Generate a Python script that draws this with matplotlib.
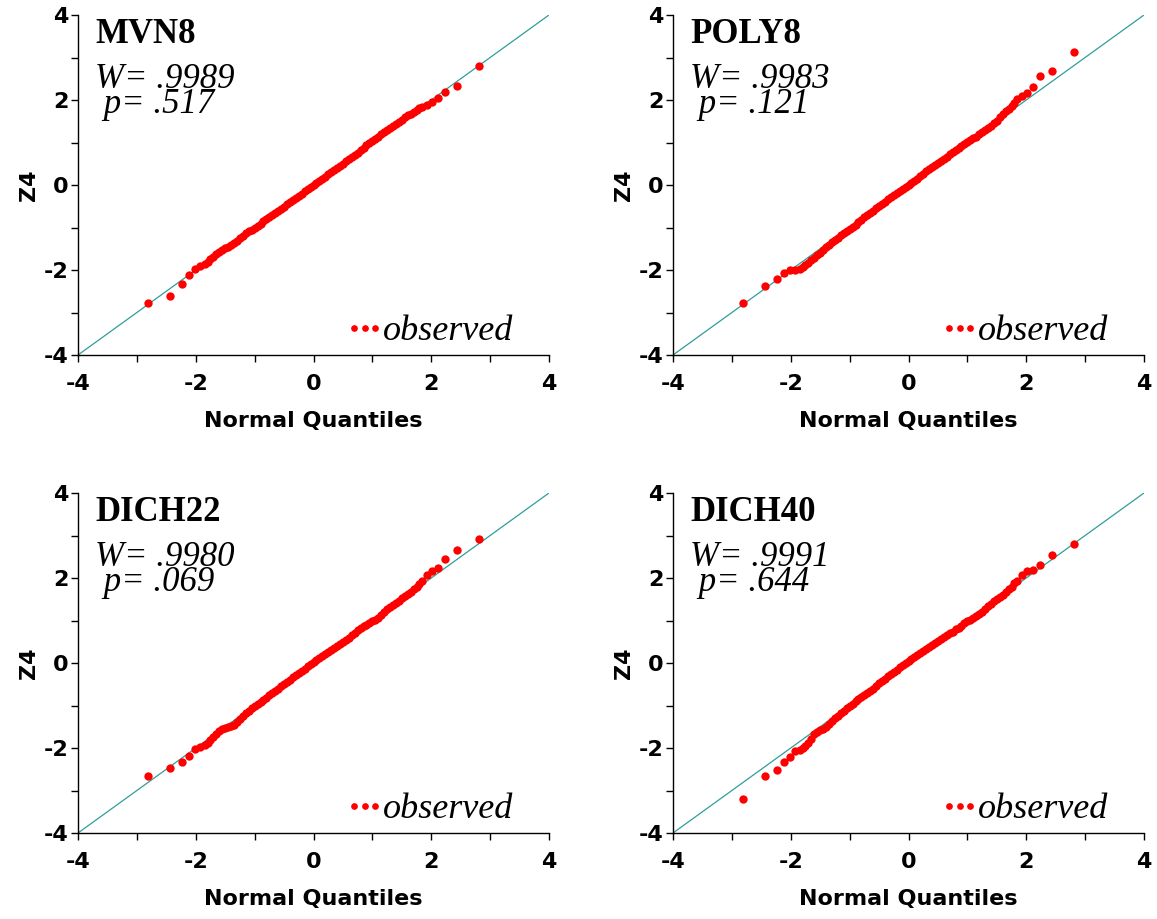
import matplotlib
matplotlib.use("Agg")
import matplotlib.pyplot as plt
from matplotlib.lines import Line2D
from matplotlib.ticker import MultipleLocator

plt.rcParams["axes.unicode_minus"] = False

# normal quantile positions (same for all four panels)
lower_tail_x = [-2.81, -2.43, -2.24, -2.11, -2.01, -1.92]
band_x = [-1.85, -1.80, -1.75, -1.70, -1.65,
          -1.60, -1.55, -1.50, -1.45, -1.40,
          -1.35, -1.30, -1.25, -1.20, -1.15,
          -1.10, -1.05, -1.00, -0.95, -0.90,
          -0.85, -0.80, -0.75, -0.70, -0.65,
          -0.60, -0.55, -0.50, -0.45, -0.40,
          -0.35, -0.30, -0.25, -0.20, -0.15,
          -0.10, -0.05, 0.00, 0.05, 0.10,
          0.15, 0.20, 0.25, 0.30, 0.35,
          0.40, 0.45, 0.50, 0.55, 0.60,
          0.65, 0.70, 0.75, 0.80, 0.85,
          0.90, 0.95, 1.00, 1.05, 1.10,
          1.15, 1.20, 1.25, 1.30, 1.35,
          1.40, 1.45, 1.50, 1.55, 1.60,
          1.65, 1.70, 1.75, 1.80, 1.85]
upper_tail_x = [1.92, 2.01, 2.11, 2.24, 2.43, 2.81]
quantiles = lower_tail_x + band_x + upper_tail_x

# observed Z4 values (lower tail, band, upper tail)
mvn8_y = ([-2.77, -2.61, -2.32, -2.11, -1.98, -1.91] +
          [-1.85, -1.80, -1.74, -1.69, -1.63,
           -1.58, -1.54, -1.49, -1.45, -1.40,
           -1.36, -1.31, -1.25, -1.20, -1.14,
           -1.09, -1.05, -1.00, -0.96, -0.91,
           -0.85, -0.80, -0.75, -0.70, -0.66,
           -0.61, -0.56, -0.51, -0.45, -0.40,
           -0.36, -0.31, -0.26, -0.21, -0.15,
           -0.10, -0.05, 0.00, 0.04, 0.09,
           0.15, 0.20, 0.25, 0.30, 0.36,
           0.41, 0.45, 0.50, 0.56, 0.61,
           0.66, 0.71, 0.76, 0.82, 0.88,
           0.93, 0.98, 1.03, 1.08, 1.13,
           1.19, 1.24, 1.29, 1.34, 1.39,
           1.44, 1.49, 1.54, 1.59, 1.64,
           1.68, 1.72, 1.77, 1.81, 1.84] +
          [1.88, 1.96, 2.05, 2.19, 2.33, 2.79])
poly8_y = ([-2.77, -2.37, -2.20, -2.06, -2.00, -1.99] +
           [-1.97, -1.94, -1.89, -1.84, -1.77,
            -1.71, -1.65, -1.59, -1.53, -1.47,
            -1.41, -1.35, -1.30, -1.24, -1.18,
            -1.13, -1.08, -1.03, -0.98, -0.93,
            -0.87, -0.82, -0.76, -0.71, -0.65,
            -0.60, -0.54, -0.49, -0.44, -0.39,
            -0.34, -0.29, -0.24, -0.19, -0.14,
            -0.09, -0.05, 0.00, 0.05, 0.10,
            0.15, 0.21, 0.27, 0.33, 0.38,
            0.43, 0.47, 0.52, 0.57, 0.62,
            0.67, 0.72, 0.77, 0.82, 0.86,
            0.91, 0.96, 1.01, 1.05, 1.10,
            1.14, 1.19, 1.24, 1.29, 1.34,
            1.39, 1.45, 1.51, 1.59, 1.68,
            1.73, 1.79, 1.85, 1.93, 2.02] +
           [2.10, 2.17, 2.30, 2.57, 2.68, 3.14])
dich22_y = ([-2.66, -2.47, -2.33, -2.19, -2.03, -1.98] +
            [-1.93, -1.88, -1.81, -1.75, -1.67,
             -1.60, -1.55, -1.53, -1.51, -1.49,
             -1.45, -1.39, -1.32, -1.25, -1.18,
             -1.12, -1.06, -1.01, -0.97, -0.92,
             -0.87, -0.82, -0.76, -0.70, -0.65,
             -0.60, -0.54, -0.49, -0.44, -0.39,
             -0.34, -0.29, -0.23, -0.18, -0.13,
             -0.08, -0.03, 0.02, 0.07, 0.12,
             0.17, 0.22, 0.26, 0.31, 0.35,
             0.40, 0.45, 0.50, 0.55, 0.60,
             0.66, 0.71, 0.77, 0.82, 0.86,
             0.90, 0.94, 0.98, 1.02, 1.07,
             1.14, 1.21, 1.27, 1.32, 1.37,
             1.42, 1.47, 1.52, 1.58, 1.63,
             1.68, 1.73, 1.79, 1.86, 1.94] +
            [2.08, 2.16, 2.23, 2.45, 2.65, 2.91])
dich40_y = ([-3.21, -2.65, -2.52, -2.34, -2.20, -2.08] +
            [-2.04, -2.01, -1.95, -1.88, -1.78,
             -1.68, -1.62, -1.58, -1.55, -1.50,
             -1.43, -1.37, -1.30, -1.24, -1.18,
             -1.13, -1.07, -1.02, -0.96, -0.90,
             -0.85, -0.80, -0.76, -0.71, -0.65,
             -0.60, -0.54, -0.48, -0.42, -0.37,
             -0.31, -0.26, -0.21, -0.16, -0.10,
             -0.05, 0.00, 0.04, 0.09, 0.14,
             0.19, 0.23, 0.28, 0.33, 0.38,
             0.43, 0.47, 0.52, 0.56, 0.61,
             0.65, 0.70, 0.74, 0.79, 0.83,
             0.88, 0.93, 0.98, 1.02, 1.07,
             1.11, 1.16, 1.21, 1.27, 1.33,
             1.39, 1.45, 1.51, 1.56, 1.61,
             1.67, 1.73, 1.80, 1.88, 1.94] +
            [2.07, 2.16, 2.18, 2.30, 2.54, 2.80])

titles = ["MVN8", "POLY8", "DICH22", "DICH40"]
w_stats = [".9989", ".9983", ".9980", ".9991"]
p_stats = [".517", ".121", ".069", ".644"]
series = [mvn8_y, poly8_y, dich22_y, dich40_y]

W, H = 1157, 919
fig = plt.figure(figsize=(W / 100, H / 100), dpi=100)

# axes boxes in pixels: left, top
boxes = [(78, 15), (673, 15), (78, 493), (673, 493)]
aw, ah = 471, 340

sans = {"family": "DejaVu Sans", "weight": "bold", "size": 16}
serif = "Liberation Serif"

for (left, top), title, w, p, yv in zip(boxes, titles, w_stats, p_stats, series):
    ax = fig.add_axes([left / W, 1 - (top + ah) / H, aw / W, ah / H])
    ax.set_xlim(-4, 4)
    ax.set_ylim(-4, 4)

    ax.axline((0, 0), slope=1, color="#2E9E9B", lw=0.9, zorder=1)
    ax.plot(quantiles, yv, "o", color="#FF0000", ms=6.0, mec="none", zorder=2)

    for s in ["top", "right"]:
        ax.spines[s].set_visible(False)
    for s in ["left", "bottom"]:
        ax.spines[s].set_linewidth(1.0)

    ax.xaxis.set_major_locator(MultipleLocator(2))
    ax.yaxis.set_major_locator(MultipleLocator(2))
    ax.xaxis.set_minor_locator(MultipleLocator(1))
    ax.yaxis.set_minor_locator(MultipleLocator(1))
    ax.tick_params(which="both", direction="out", length=5, width=1)
    ax.tick_params(axis="x", pad=9)
    ax.tick_params(axis="y", pad=2)
    for lab in ax.get_xticklabels() + ax.get_yticklabels():
        lab.set_fontfamily(sans["family"])
        lab.set_fontweight("bold")
        lab.set_fontsize(sans["size"])

    ax.set_xlabel("Normal Quantiles", fontdict=sans)
    ax.set_ylabel("Z4", fontdict=sans)
    ax.xaxis.set_label_coords(0.5, -0.165)
    ax.yaxis.set_label_coords(-0.082, 0.5)

    ax.text(0.036, 1 - 28 / ah, title, transform=ax.transAxes, family=serif,
            weight="bold", size=25, va="baseline")
    # two stacked lines; the anchor sits on the baseline of the last line
    ax.text(0.036, 1 - 98 / ah, "W= " + w + "\n p= " + p, transform=ax.transAxes,
            family=serif, style="italic", size=25, va="baseline",
            linespacing=0.68)

    handle = Line2D([], [], color="#FF0000", marker="o", linestyle="None", ms=3.8)
    ax.legend([handle], ["observed"], loc="lower right",
              bbox_to_anchor=(0.925, 0.02), frameon=False, numpoints=3,
              handlelength=1.18, handletextpad=-0.07, borderaxespad=0,
              borderpad=0, prop={"family": serif, "style": "italic", "size": 26})

fig.savefig("out.png", dpi=100)
